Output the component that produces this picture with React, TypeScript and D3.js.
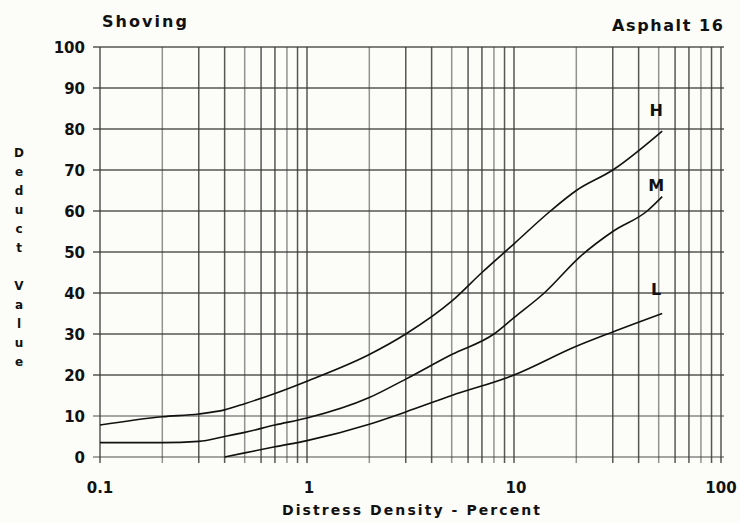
import React, { useEffect, useRef } from 'react';
import * as d3 from 'd3';

// severity curves (density %, deduct value)
const highX = [0.1, 0.2, 0.3, 0.4, 0.5, 0.7, 1, 2, 3, 5, 7, 10, 15, 20, 30, 52];
const highY = [7.8, 9.8, 10.5, 11.5, 13, 15.5, 18.5, 25, 30, 38, 45, 52, 60, 65, 70, 79.5];
const medX = [0.1, 0.2, 0.3, 0.4, 0.5, 0.7, 1, 2, 3, 5, 8, 10, 14, 21, 30, 44, 52];
const medY = [3.5, 3.5, 3.8, 5, 6, 7.8, 9.5, 14.5, 19, 25, 30, 34, 40, 49, 55, 60, 63.5];
const lowX = [0.4, 0.5, 0.7, 1, 2, 3, 5, 10, 20, 30, 52];
const lowY = [0, 1, 2.5, 4, 8, 11, 15, 20, 27, 30.5, 35];

const xTicks = [0.1, 1, 10, 100];
const yTicks = [0, 10, 20, 30, 40, 50, 60, 70, 80, 90, 100];
const yTitle = 'Deduct Value';

const App = () => {
  const ref = useRef(null);

  useEffect(() => {
    const svg = d3.select(ref.current);
    svg.selectAll('*').remove();
    const width = 740;
    const height = 523;
    const left = 100, right = 721, top = 47, bottom = 457;
    const font = '"DejaVu Sans", "Liberation Sans", sans-serif';

    svg.append('rect').attr('width', width).attr('height', height).attr('fill', '#fcfcf8');

    const x = d3.scaleLog().domain([0.1, 100]).range([left, right]);
    const y = d3.scaleLinear().domain([0, 100]).range([bottom, top]);

    // minor + major vertical grid
    const vLines = [];
    for (let p = -1; p < 2; p++) {
      for (let k = 1; k < 10; k++) vLines.push(k * Math.pow(10, p));
    }
    vLines.push(100);

    const grid = svg.append('g').attr('stroke', '#3a3a3a').attr('stroke-width', 1.5);
    grid.selectAll('line.v')
      .data(vLines)
      .join('line')
      .attr('class', 'v')
      .attr('x1', d => x(d))
      .attr('x2', d => x(d))
      .attr('y1', top)
      .attr('y2', bottom + 6)
      .attr('stroke-opacity', (d, i) => (i % 3 === 1 ? 0.55 : 0.85));

    grid.selectAll('line.h')
      .data(yTicks)
      .join('line')
      .attr('class', 'h')
      .attr('x1', left - 7)
      .attr('x2', right + 3)
      .attr('y1', d => y(d))
      .attr('y2', d => y(d))
      .attr('stroke-opacity', d => (d === 10 || d === 0 ? 0.6 : 0.85));

    const line = d3.line().x(d => x(d[0])).y(d => y(d[1])).curve(d3.curveMonotoneX);
    const series = [
      { key: 'H', xs: highX, ys: highY, dy: -15 },
      { key: 'M', xs: medX, ys: medY, dy: -6 },
      { key: 'L', xs: lowX, ys: lowY, dy: -19 },
    ];
    svg.append('g')
      .selectAll('path')
      .data(series)
      .join('path')
      .attr('d', s => line(s.xs.map((v, i) => [v, s.ys[i]])))
      .attr('fill', 'none')
      .attr('stroke', '#111')
      .attr('stroke-width', 1.6);

    svg.append('g')
      .selectAll('text')
      .data(series)
      .join('text')
      .attr('x', s => x(s.xs[s.xs.length - 1]) - 6)
      .attr('y', s => y(s.ys[s.ys.length - 1]) + s.dy)
      .attr('text-anchor', 'middle')
      .attr('font-family', font)
      .attr('font-weight', 'bold')
      .attr('font-size', 16)
      .attr('fill', '#111')
      .text(s => s.key);

    svg.append('g')
      .selectAll('text')
      .data(yTicks)
      .join('text')
      .attr('x', left - 15)
      .attr('y', d => y(d) + 6)
      .attr('text-anchor', 'end')
      .attr('font-family', font)
      .attr('font-weight', 'bold')
      .attr('font-size', 15)
      .attr('fill', '#111')
      .text(d => d);

    svg.append('g')
      .selectAll('text')
      .data(xTicks)
      .join('text')
      .attr('x', d => x(d) + (d === 1 || d === 10 ? 2 : 0))
      .attr('y', 493)
      .attr('text-anchor', 'middle')
      .attr('font-family', font)
      .attr('font-weight', 'bold')
      .attr('font-size', 15)
      .attr('fill', '#111')
      .text(d => d);

    svg.append('text')
      .attr('x', 282)
      .attr('y', 515)
      .attr('textLength', 258)
      .attr('lengthAdjust', 'spacing')
      .attr('font-family', font)
      .attr('font-weight', 'bold')
      .attr('font-size', 14)
      .attr('fill', '#111')
      .text('Distress Density - Percent');

    svg.append('text')
      .attr('x', 102)
      .attr('y', 27)
      .attr('textLength', 85)
      .attr('lengthAdjust', 'spacing')
      .attr('font-family', font)
      .attr('font-weight', 'bold')
      .attr('font-size', 16)
      .attr('fill', '#111')
      .text('Shoving');

    svg.append('text')
      .attr('x', 612)
      .attr('y', 31)
      .attr('textLength', 111)
      .attr('lengthAdjust', 'spacing')
      .attr('font-family', font)
      .attr('font-weight', 'bold')
      .attr('font-size', 16)
      .attr('fill', '#111')
      .text('Asphalt 16');

    // stacked vertical axis title
    svg.append('g')
      .selectAll('text')
      .data(yTitle.split(''))
      .join('text')
      .attr('x', 19)
      .attr('y', (d, i) => 157 + i * 19)
      .attr('text-anchor', 'middle')
      .attr('font-family', font)
      .attr('font-weight', 'bold')
      .attr('font-size', 12)
      .attr('fill', '#111')
      .text(d => d);
  }, []);

  return <svg ref={ref} width={740} height={523} style={{ position: 'absolute', left: 0, top: 0 }} />;
};

export default App;
